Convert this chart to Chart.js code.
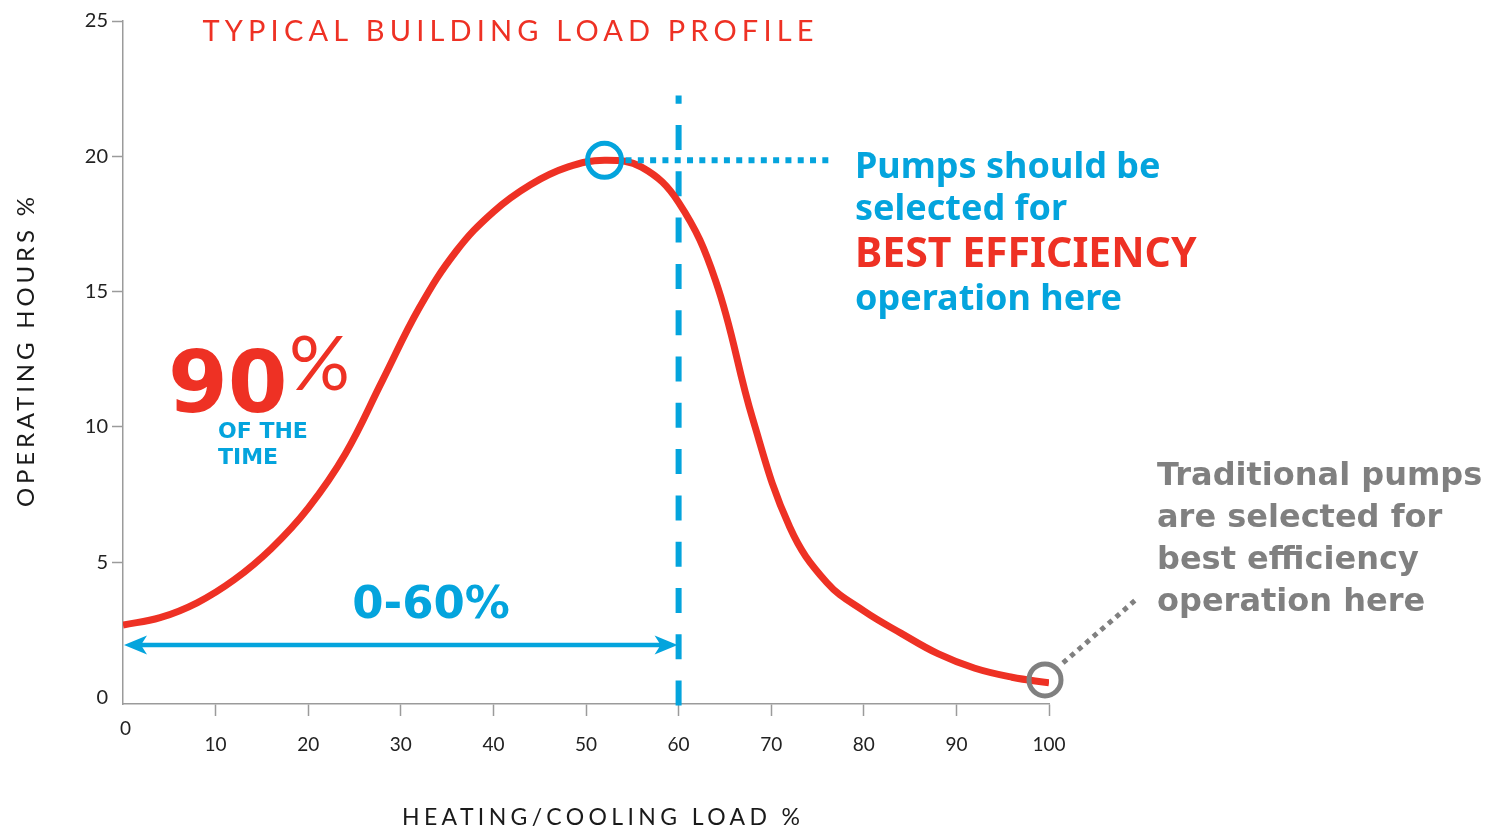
<!DOCTYPE html>
<html>
<head>
<meta charset="utf-8">
<script src="https://cdn.jsdelivr.net/npm/chart.js@4.4.1/dist/chart.umd.min.js"></script>
<style>
  html, body { margin: 0; padding: 0; background: #ffffff; overflow: hidden; }
  #wrap { width: 1499px; height: 831px; position: relative; }
</style>
</head>
<body>
<div id="wrap"><canvas id="c" width="1499" height="831"></canvas></div>
<script>
// ---- data ----
const loadPct = [0, 4, 8, 12, 16, 20, 24, 28, 32, 36, 40, 44, 48, 52, 56, 60, 64, 68, 72, 76, 80, 84, 88, 92, 96, 100];
const operatingHours = [2.68, 2.95, 3.5, 4.35, 5.5, 7.0, 9.0, 11.7, 14.4, 16.5, 17.95, 18.95, 19.6, 19.85, 19.6, 18.3, 15.4, 10.3, 6.3, 4.25, 3.2, 2.38, 1.62, 1.08, 0.75, 0.54];
const xTickValues = [0, 10, 20, 30, 40, 50, 60, 70, 80, 90, 100];
const yTickValues = [0, 5, 10, 15, 20, 25];
const peakPoint = { x: 52, y: 19.85 };
const traditionalPoint = { x: 100, y: 0.65 };
const rangeEnd = 60;
const arrowLevel = 1.94;

const chartTitle = 'TYPICAL BUILDING LOAD PROFILE';
const xTitle = 'HEATING/COOLING LOAD %';
const yTitle = 'OPERATING HOURS %';
const blueNote = ['Pumps should be', 'selected for', 'BEST EFFICIENCY', 'operation here'];
const grayNote = ['Traditional pumps', 'are selected for', 'best efficiency', 'operation here'];
const bigPct = '90';
const bigPctSign = '%';
const ofTheTime = ['OF THE', 'TIME'];
const rangeLabel = '0-60%';

const RED = '#ee3124';
const BLUE = '#04a4dd';
const GRAY = '#808080';
const AXIS = '#9b9b9b';

function spacedText(ctx, text, cx, cy, font, color, targetWidth) {
  ctx.save();
  ctx.font = font;
  ctx.letterSpacing = '0px';
  const w0 = ctx.measureText(text).width;
  const n = [...text].length;
  const sp = (targetWidth - w0) / (n - 1);
  ctx.letterSpacing = sp + 'px';
  ctx.fillStyle = color;
  ctx.textAlign = 'left';
  ctx.textBaseline = 'middle';
  ctx.fillText(text, cx - targetWidth / 2, cy);
  ctx.restore();
}

const annotations = {
  id: 'annotations',
  beforeDatasetsDraw(chart) {
    const ctx = chart.ctx, x = chart.scales.x, y = chart.scales.y;
    ctx.save();
    const vx = x.getPixelForValue(rangeEnd);
    ctx.strokeStyle = BLUE;
    ctx.lineWidth = 6;
    ctx.setLineDash([25, 21.3]);
    ctx.beginPath();
    ctx.moveTo(vx, y.getPixelForValue(-0.3));
    ctx.lineTo(vx, y.getPixelForValue(22.25));
    ctx.stroke();
    ctx.setLineDash([]);
    const ay = y.getPixelForValue(arrowLevel);
    const ax0 = x.getPixelForValue(0) + 1, ax1 = x.getPixelForValue(rangeEnd) - 1;
    ctx.lineWidth = 4.5;
    ctx.beginPath();
    ctx.moveTo(ax0 + 10, ay);
    ctx.lineTo(ax1 - 10, ay);
    ctx.stroke();
    ctx.fillStyle = BLUE;
    ctx.beginPath();
    ctx.moveTo(ax0, ay); ctx.lineTo(ax0 + 23, ay - 9.5); ctx.lineTo(ax0 + 17, ay); ctx.lineTo(ax0 + 23, ay + 9.5); ctx.closePath();
    ctx.fill();
    ctx.beginPath();
    ctx.moveTo(ax1, ay); ctx.lineTo(ax1 - 23, ay - 9.5); ctx.lineTo(ax1 - 17, ay); ctx.lineTo(ax1 - 23, ay + 9.5); ctx.closePath();
    ctx.fill();
    ctx.restore();
  },
  afterDatasetsDraw(chart) {
    const ctx = chart.ctx, x = chart.scales.x, y = chart.scales.y;
    ctx.save();
    const px = x.getPixelForValue(peakPoint.x), py = y.getPixelForValue(peakPoint.y);
    ctx.strokeStyle = BLUE;
    ctx.lineWidth = 5;
    ctx.beginPath(); ctx.arc(px, py, 17, 0, Math.PI * 2); ctx.stroke();
    ctx.lineWidth = 6;
    ctx.setLineDash([6, 6.3]);
    ctx.beginPath(); ctx.moveTo(px + 21, py); ctx.lineTo(830, py); ctx.stroke();
    ctx.setLineDash([]);
    const tx = x.getPixelForValue(traditionalPoint.x) - 4, ty = y.getPixelForValue(traditionalPoint.y);
    ctx.strokeStyle = GRAY;
    ctx.lineWidth = 5;
    ctx.beginPath(); ctx.arc(tx, ty, 16, 0, Math.PI * 2); ctx.stroke();
    ctx.setLineDash([5, 5]);
    ctx.beginPath(); ctx.moveTo(tx + 18, ty - 17); ctx.lineTo(tx + 93, ty - 82); ctx.stroke();
    ctx.setLineDash([]);

    ctx.textBaseline = 'alphabetic';
    ctx.textAlign = 'left';
    ctx.fillStyle = RED;
    ctx.font = 'bold 86px "DejaVu Sans"';
    ctx.fillText(bigPct, 168, 412);
    ctx.font = '400 76px Lato';
    ctx.fillText(bigPctSign, 289, 390);
    ctx.fillStyle = BLUE;
    ctx.font = 'bold 22px "DejaVu Sans"';
    ctx.fillText(ofTheTime[0], 218, 438);
    ctx.fillText(ofTheTime[1], 218, 464);
    ctx.font = 'bold 45px "DejaVu Sans"';
    ctx.textAlign = 'center';
    ctx.fillText(rangeLabel, 431, 618);
    ctx.textAlign = 'left';

    const blueBase = [178, 220, 267, 310];
    blueNote.forEach((t, i) => {
      ctx.fillStyle = i === 2 ? RED : BLUE;
      ctx.font = i === 2 ? 'bold 41px "Noto Sans"' : 'bold 36px "Noto Sans"';
      ctx.fillText(t, 855, blueBase[i]);
    });
    const grayBase = [485, 527, 569, 611];
    ctx.fillStyle = GRAY;
    ctx.font = 'bold 32px "DejaVu Sans"';
    grayNote.forEach((t, i) => ctx.fillText(t, 1157, grayBase[i]));

    spacedText(ctx, chartTitle, 508, 32, '400 29px Lato', RED, 611);
    spacedText(ctx, xTitle, 601, 818, '400 23px Lato', '#1a1a1a', 398);
    ctx.save();
    ctx.translate(26, 352);
    ctx.rotate(-Math.PI / 2);
    spacedText(ctx, yTitle, 0, 0, '400 24px Lato', '#1a1a1a', 310);
    ctx.restore();
    ctx.restore();
  }
};

new Chart(document.getElementById('c'), {
  type: 'line',
  data: {
    datasets: [{
      data: loadPct.map((v, i) => ({ x: v, y: operatingHours[i] })),
      borderColor: RED,
      borderWidth: 7,
      pointRadius: 0,
      fill: false,
      tension: 0.4,
      borderCapStyle: 'butt'
    }]
  },
  options: {
    responsive: false,
    animation: false,
    events: [],
    layout: { padding: { top: 21, right: 450, left: 0, bottom: 0 } },
    plugins: { legend: { display: false }, tooltip: { enabled: false }, title: { display: false } },
    scales: {
      x: {
        type: 'linear', min: 0, max: 100,
        afterBuildTicks: s => { s.ticks = xTickValues.map(v => ({ value: v })); },
        afterFit: s => { s.height = 127; },
        grid: {
          drawOnChartArea: false, tickLength: 12, tickWidth: 1.5,
          tickColor: c => (c.tick && c.tick.value === 0) ? 'rgba(0,0,0,0)' : AXIS
        },
        border: { display: true, color: AXIS, width: 1.5 },
        ticks: {
          autoSkip: false, maxRotation: 0, minRotation: 0, padding: 5,
          color: '#222', font: { family: 'Lato', size: 19, lineHeight: '16px' },
          callback: v => v === 0 ? [' ' + String(v), ''] : ['', String(v)]
        }
      },
      y: {
        type: 'linear', min: -0.24, max: 25,
        afterBuildTicks: s => { s.ticks = yTickValues.map(v => ({ value: v })); },
        afterFit: s => { s.width = 123; },
        grid: {
          drawOnChartArea: false, tickLength: 11, tickWidth: 1.5,
          tickColor: c => (c.tick && c.tick.value === 0) ? 'rgba(0,0,0,0)' : AXIS
        },
        border: { display: true, color: AXIS, width: 1.5 },
        ticks: {
          padding: 4, color: '#222', font: { family: 'Lato', size: 20 },
          callback: v => String(v)
        }
      }
    }
  },
  plugins: [annotations]
});
</script>
</body>
</html>
